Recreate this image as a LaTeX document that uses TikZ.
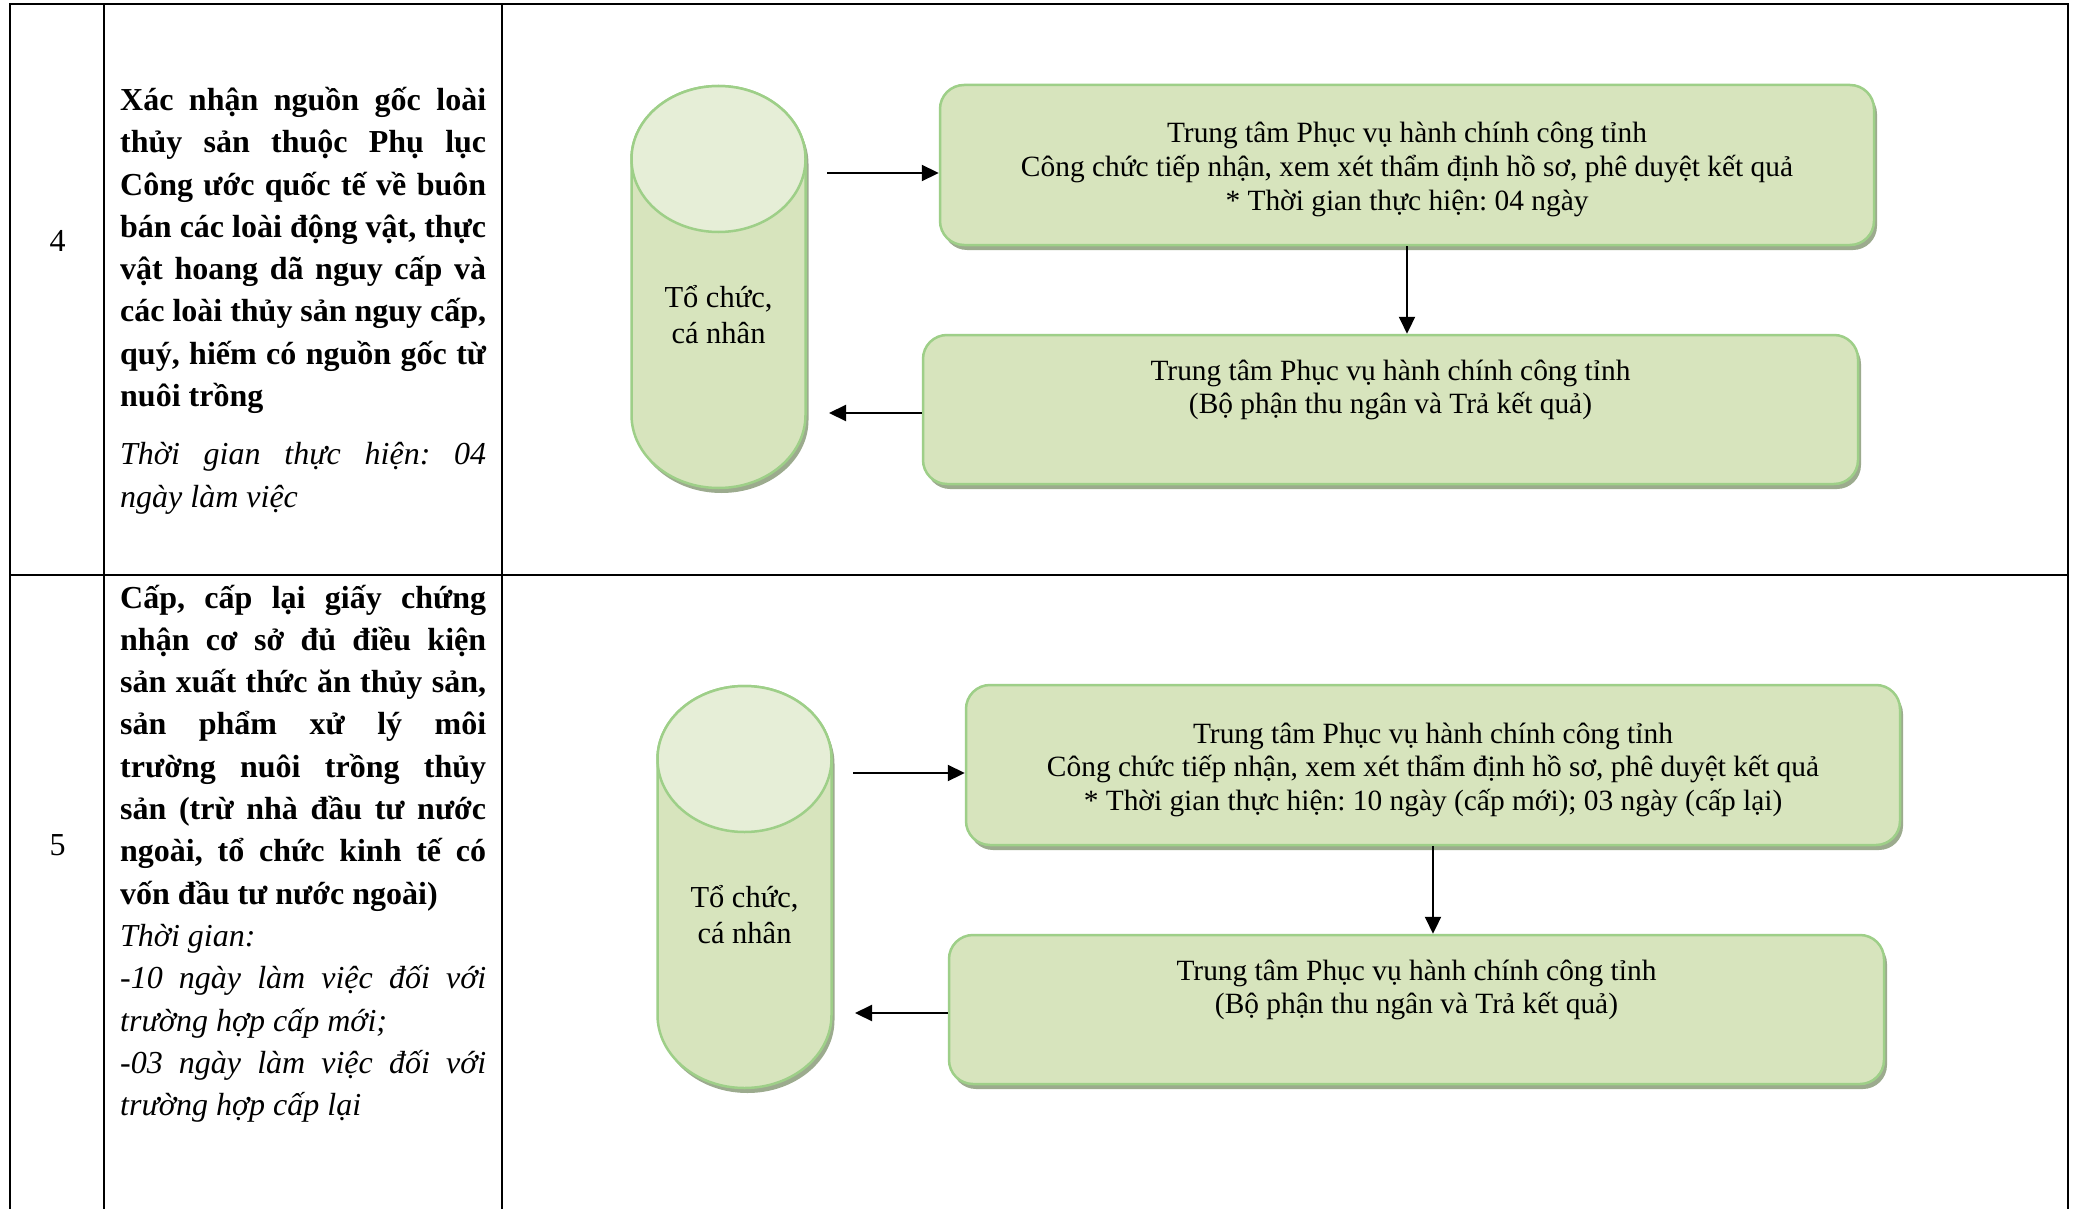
\documentclass[tikz,border=0pt]{standalone}
\usepackage{fontspec}
\setmainfont{Liberation Serif}
\usetikzlibrary{arrows.meta,shadows}
\definecolor{boxfill}{HTML}{D7E4BD}
\definecolor{topfill}{HTML}{E6EED7}
\definecolor{boxline}{HTML}{9ECF88}
\definecolor{shadowc}{HTML}{9CAB8E}
% justified line / natural line / column block / centred lines
\newcommand{\jl}[1]{\hbox to\hsize{\frenchspacing\spaceskip=0.25em plus 1fill minus 0.06em\relax #1}}
\newcommand{\nl}[1]{\hbox{#1}}
\newcommand{\colblock}[1]{\vtop{\hsize=366pt\baselineskip=42.3pt\lineskiplimit=-\maxdimen\lineskip=0pt #1}}
\newcommand{\cl}[1]{\hbox to\hsize{\hss#1\hss}}
\newcommand{\boxlines}[2]{\vtop{\hsize=1000pt\baselineskip=#1\lineskiplimit=-\maxdimen\lineskip=0pt #2}}
\tikzset{
  x=1pt, y=-1pt,
  tableline/.style={line width=2.5pt, draw=black},
  stepbox/.style={draw=boxline, line width=2.5pt, fill=boxfill, rounded corners=24pt,
    inner sep=0pt, drop shadow={shadow xshift=3pt, shadow yshift=-5pt, fill=shadowc, opacity=1}},
  boxtext/.style={anchor=base, inner sep=0pt, font=\fontsize{29.4}{33.7}\selectfont},
  cyltext/.style={anchor=base, inner sep=0pt, font=\fontsize{30.5}{36}\selectfont},
  coltext/.style={anchor=base west, inner sep=0pt, font=\fontsize{32}{42.3}\selectfont\bfseries},
  numtext/.style={anchor=base, inner sep=0pt, font=\fontsize{32}{38}\selectfont},
  conn/.style={line width=2.2pt, draw=black, -{Triangle[length=17pt,width=16pt]}},
  datastore/.pic={
    \fill[shadowc, xshift=3pt, yshift=-5pt] (-87,73) -- (-87,329)
      arc[start angle=180, end angle=360, x radius=87pt, y radius=73pt] -- (87,73)
      arc[start angle=0, end angle=180, x radius=87pt, y radius=73pt] -- cycle;
    \filldraw[fill=boxfill, draw=boxline, line width=2.5pt] (-87,73) -- (-87,329)
      arc[start angle=180, end angle=360, x radius=87pt, y radius=73pt] -- (87,73)
      arc[start angle=0, end angle=180, x radius=87pt, y radius=73pt] -- cycle;
    \filldraw[fill=topfill, draw=boxline, line width=2.5pt] (0,73) ellipse[x radius=87pt, y radius=73pt];
  }
}
\begin{document}
\frenchspacing
\begin{tikzpicture}
\useasboundingbox (0,0) rectangle (2077,1209);
\fill[white] (0,0) rectangle (2077,1209);

% table frame
\draw[tableline] (10,1209) -- (10,4) -- (2068,4) -- (2068,1209);
\draw[tableline] (104,4) -- (104,1209);
\draw[tableline] (502,4) -- (502,1209);
\draw[tableline] (10,575) -- (2068,575);

% ---------- row 4 ----------
\node[numtext] (n4) at (57.5,251.5) {4};
\node[coltext] (d4) at (120,110.5) {\colblock{%
  \jl{Xác nhận nguồn gốc loài}
  \jl{thủy sản thuộc Phụ lục}
  \jl{Công ước quốc tế về buôn}
  \jl{bán các loài động vật, thực}
  \jl{vật hoang dã nguy cấp và}
  \jl{các loài thủy sản nguy cấp,}
  \jl{quý, hiếm có nguồn gốc từ}
  \nl{nuôi trồng}
  \vskip16pt\mdseries\itshape
  \jl{Thời gian thực hiện: 04}
  \nl{ngày làm việc}}};

\pic at (718.5,86) {datastore};
\node[cyltext] (c4) at (718.5,307)
  {\boxlines{36pt}{\cl{Tổ chức,}\cl{cá nhân}}};

\node[stepbox, minimum width=934pt, minimum height=160pt] (b41) at (1407,165) {};
\node[stepbox, minimum width=935pt, minimum height=149pt] (b42) at (1390.5,409.5) {};
\node[boxtext] (t41) at (1407,143) {\boxlines{33.7pt}{%
  \cl{Trung tâm Phục vụ hành chính công tỉnh}
  \cl{Công chức tiếp nhận, xem xét thẩm định hồ sơ, phê duyệt kết quả}
  \cl{* Thời gian thực hiện: 04 ngày}}};
\node[boxtext] (t42) at (1390.5,380) {\boxlines{33.7pt}{%
  \cl{Trung tâm Phục vụ hành chính công tỉnh}
  \cl{(Bộ phận thu ngân và Trả kết quả)}}};

\coordinate (a4in) at (827,173);
\coordinate (a4out) at (829,413);
\draw[conn] (a4in) -- (a4in -| b41.west);
\draw[conn] (b41.south) -- (b41.south |- b42.north);
\draw[conn] (a4out -| b42.west) -- (a4out);

% ---------- row 5 ----------
\node[numtext] (n5) at (57.5,855.5) {5};
\node[coltext] (d5) at (120,608) {\colblock{%
  \jl{Cấp, cấp lại giấy chứng}
  \jl{nhận cơ sở đủ điều kiện}
  \jl{sản xuất thức ăn thủy sản,}
  \jl{sản phẩm xử lý môi}
  \jl{trường nuôi trồng thủy}
  \jl{sản (trừ nhà đầu tư nước}
  \jl{ngoài, tổ chức kinh tế có}
  \nl{vốn đầu tư nước ngoài)}
  \mdseries\itshape
  \nl{Thời gian:}
  \jl{-10 ngày làm việc đối với}
  \nl{trường hợp cấp mới;}
  \jl{-03 ngày làm việc đối với}
  \nl{trường hợp cấp lại}}};

\pic at (744.5,686) {datastore};
\node[cyltext] (c5) at (744.5,907)
  {\boxlines{36pt}{\cl{Tổ chức,}\cl{cá nhân}}};

\node[stepbox, minimum width=934pt, minimum height=160pt] (b51) at (1433,765) {};
\node[stepbox, minimum width=935pt, minimum height=149pt] (b52) at (1416.5,1009.5) {};
\node[boxtext] (t51) at (1433,743) {\boxlines{33.7pt}{%
  \cl{Trung tâm Phục vụ hành chính công tỉnh}
  \cl{Công chức tiếp nhận, xem xét thẩm định hồ sơ, phê duyệt kết quả}
  \cl{* Thời gian thực hiện: 10 ngày (cấp mới); 03 ngày (cấp lại)}}};
\node[boxtext] (t52) at (1416.5,980) {\boxlines{33.7pt}{%
  \cl{Trung tâm Phục vụ hành chính công tỉnh}
  \cl{(Bộ phận thu ngân và Trả kết quả)}}};

\coordinate (a5in) at (853,773);
\coordinate (a5out) at (855,1013);
\draw[conn] (a5in) -- (a5in -| b51.west);
\draw[conn] (b51.south) -- (b51.south |- b52.north);
\draw[conn] (a5out -| b52.west) -- (a5out);
\end{tikzpicture}
\end{document}
